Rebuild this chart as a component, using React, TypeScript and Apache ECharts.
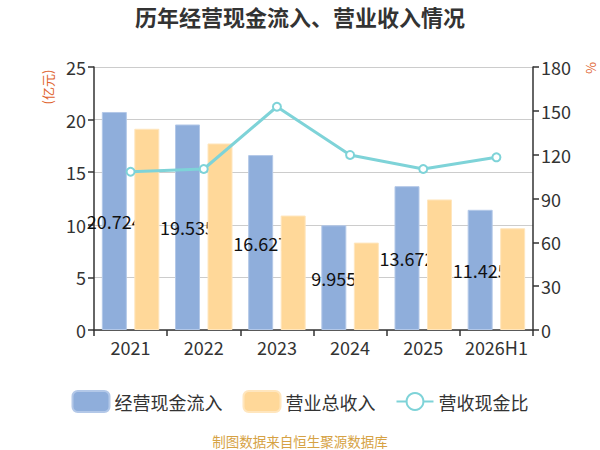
import React, { useEffect, useRef } from "react";
import * as echarts from "echarts";

const categories = ["2021", "2022", "2023", "2024", "2025", "2026H1"];
const cashInflow = [20.724, 19.535, 16.627, 9.955, 13.672, 11.425];
const revenue = [19.13, 17.73, 10.88, 8.31, 12.41, 9.67];
const ratio = [108.3, 110.2, 152.8, 119.8, 110.2, 118.2];

const FONT = "'Noto Sans CJK SC', 'Noto Sans', sans-serif";

export default function App() {
  const ref = useRef<HTMLDivElement>(null);
  useEffect(() => {
    document.body.style.margin = "0";
    if (!ref.current) return;
    const chart = echarts.init(ref.current, undefined, { renderer: "svg" });
    chart.setOption({
      animation: false,
      backgroundColor: "#fff",
      textStyle: { fontFamily: FONT },
      title: {
        text: "历年经营现金流入、营业收入情况",
        left: "center",
        top: 0,
        textStyle: { fontSize: 22, fontWeight: "bold", color: "#333", fontFamily: FONT },
      },
      legend: {
        top: 385,
        left: "center",
        itemWidth: 37,
        itemHeight: 21,
        itemGap: 20,
        textStyle: { fontSize: 18, color: "#333", fontFamily: FONT },
        data: [
          { name: "经营现金流入", icon: "roundRect" },
          { name: "营业总收入", icon: "roundRect" },
          { name: "营收现金比" },
        ],
      },
      graphic: [
        {
          type: "text",
          x: 47,
          y: 87,
          rotation: Math.PI / 2,
          style: {
            text: "(亿元)",
            fill: "#E0632E",
            fontSize: 13,
            fontFamily: FONT,
            align: "center",
            verticalAlign: "middle",
          },
        },
        {
          type: "text",
          x: 590,
          y: 68,
          rotation: Math.PI / 2,
          style: {
            text: "%",
            fill: "#E0632E",
            fontSize: 13,
            fontFamily: FONT,
            align: "center",
            verticalAlign: "middle",
          },
        },
        {
          type: "text",
          x: 300,
          y: 441,
          style: {
            text: "制图数据来自恒生聚源数据库",
            fill: "#D6A244",
            fontSize: 13.5,
            fontFamily: FONT,
            align: "center",
            verticalAlign: "middle",
          },
        },
      ],
      grid: { left: 94, right: 67, top: 67, bottom: 120 },
      xAxis: {
        type: "category",
        data: categories,
        axisLine: { lineStyle: { color: "#333", width: 1.5 } },
        axisTick: { show: true, length: 6, lineStyle: { color: "#333", width: 1.5 } },
        axisLabel: { fontSize: 18, color: "#333", margin: 8, interval: 0, fontFamily: FONT },
      },
      yAxis: [
        {
          type: "value",
          min: 0,
          max: 25,
          interval: 5,
          axisLine: { show: true, lineStyle: { color: "#333", width: 1.5 } },
          axisTick: { show: true, length: 6, lineStyle: { color: "#333", width: 1.5 } },
          axisLabel: { fontSize: 18, color: "#333", margin: 8, fontFamily: FONT },
          splitLine: { lineStyle: { color: "#ccc", width: 1 } },
        },
        {
          type: "value",
          min: 0,
          max: 180,
          interval: 30,
          axisLine: { show: true, lineStyle: { color: "#333", width: 1.5 } },
          axisTick: { show: true, length: 6, lineStyle: { color: "#333", width: 1.5 } },
          axisLabel: { fontSize: 18, color: "#333", margin: 8, fontFamily: FONT },
          splitLine: { show: false },
        },
      ],
      series: [
        {
          name: "经营现金流入",
          type: "bar",
          data: cashInflow,
          barWidth: 25,
          barGap: "30%",
          z: 2,
          itemStyle: { color: "#8FAEDB", borderColor: "#B3C8E8", borderWidth: 1 },
          label: {
            show: true,
            position: "inside",
            color: "#111",
            fontSize: 18,
            fontFamily: FONT,
          },
        },
        {
          name: "营业总收入",
          type: "bar",
          data: revenue,
          barWidth: 25,
          z: 3,
          itemStyle: { color: "#FFD899", borderColor: "#FFE6BE", borderWidth: 1 },
        },
        {
          name: "营收现金比",
          type: "line",
          yAxisIndex: 1,
          data: ratio,
          z: 5,
          symbol: "emptyCircle",
          symbolSize: 8,
          lineStyle: { color: "#7ED3D8", width: 3 },
          itemStyle: { color: "#7ED3D8", borderWidth: 2 },
        },
      ],
    });
    return () => chart.dispose();
  }, []);
  return <div ref={ref} style={{ width: 600, height: 450 }} />;
}
